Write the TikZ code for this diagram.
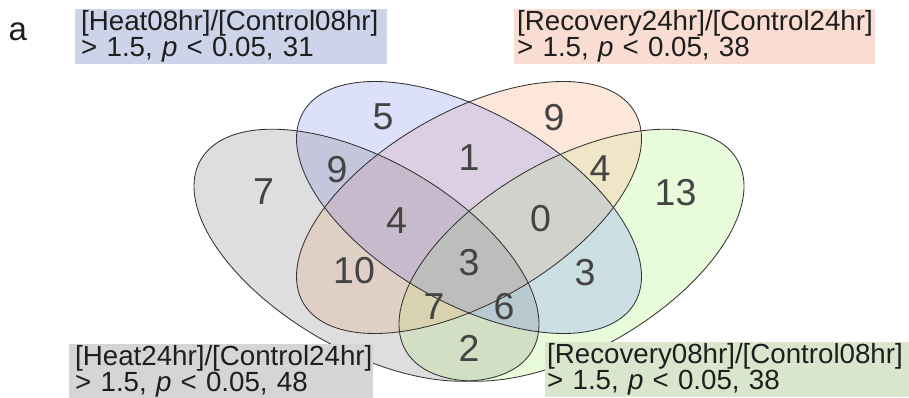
\documentclass[tikz,border=0pt]{standalone}
\usepackage{fontspec}
\setmainfont{Liberation Sans}
\hyphenpenalty=10000
\exhyphenpenalty=10000
\hbadness=10000
\hfuzz=20pt
\lineskiplimit=-100pt
\definecolor{cA}{HTML}{DEDEDE}
\definecolor{cB}{HTML}{DCE0FA}
\definecolor{cC}{HTML}{FDE6DA}
\definecolor{cD}{HTML}{E8FCDC}
\definecolor{cAB}{HTML}{C4C7DC}
\definecolor{cAC}{HTML}{E0CFC4}
\definecolor{cAD}{HTML}{D2DFC4}
\definecolor{cBC}{HTML}{DCCFE3}
\definecolor{cBD}{HTML}{CCE0E3}
\definecolor{cCD}{HTML}{EEE6C6}
\definecolor{cABC}{HTML}{C7BACC}
\definecolor{cBCD}{HTML}{D1D2CC}
\definecolor{cACD}{HTML}{D8D2B0}
\definecolor{cABD}{HTML}{B8CACF}
\definecolor{cABCD}{HTML}{BDBDBB}
\definecolor{boxB}{HTML}{CDD3E9}
\definecolor{boxC}{HTML}{F9DDD3}
\definecolor{boxA}{HTML}{D5D5D5}
\definecolor{boxD}{HTML}{D9E6CD}
\definecolor{numc}{HTML}{444444}
\definecolor{labc}{HTML}{1E1E1E}
\definecolor{linec}{HTML}{333333}
\def\EA{plot[domain=0:360,samples=181,variable=\t] ({366.5+172.5*cos(\t)},{255.2+68.9*cos(\t)+105.5*sin(\t)}) -- cycle}
\def\EB{plot[domain=0:360,samples=181,variable=\t] ({469+172.5*cos(\t)},{207.5+68.9*cos(\t)+105.5*sin(\t)}) -- cycle}
\def\EC{plot[domain=0:360,samples=181,variable=\t] ({469-172.5*cos(\t)},{207.5+68.9*cos(\t)+105.5*sin(\t)}) -- cycle}
\def\ED{plot[domain=0:360,samples=181,variable=\t] ({571.5-172.5*cos(\t)},{255.2+68.9*cos(\t)+105.5*sin(\t)}) -- cycle}
\tikzset{
  vennline/.style={draw=linec, line width=0.85pt},
  num/.style={font=\fontsize{37.5}{40}\selectfont, text=numc, inner sep=0pt},
  lab/.style={font=\fontsize{27.7}{22.7}\selectfont, text=labc, align=left, anchor=north west, inner ysep=0pt},
}
\begin{document}
\begin{tikzpicture}[x=1pt,y=-1pt]
\useasboundingbox (0,0) rectangle (909,398);
% single sets
\fill[cA] \EA;
\fill[cB] \EB;
\fill[cC] \EC;
\fill[cD] \ED;
% pairs
\begin{scope}\clip \EA; \fill[cAB] \EB; \end{scope}
\begin{scope}\clip \EA; \fill[cAC] \EC; \end{scope}
\begin{scope}\clip \EA; \fill[cAD] \ED; \end{scope}
\begin{scope}\clip \EB; \fill[cBC] \EC; \end{scope}
\begin{scope}\clip \EB; \fill[cBD] \ED; \end{scope}
\begin{scope}\clip \EC; \fill[cCD] \ED; \end{scope}
% triples
\begin{scope}\clip \EA; \clip \EB; \fill[cABC] \EC; \end{scope}
\begin{scope}\clip \EB; \clip \EC; \fill[cBCD] \ED; \end{scope}
\begin{scope}\clip \EA; \clip \EC; \fill[cACD] \ED; \end{scope}
\begin{scope}\clip \EA; \clip \EB; \fill[cABD] \ED; \end{scope}
% all four
\begin{scope}\clip \EA; \clip \EB; \clip \EC; \fill[cABCD] \ED; \end{scope}
% outlines
\draw[vennline] \EA;
\draw[vennline] \EB;
\draw[vennline] \EC;
\draw[vennline] \ED;
% counts
\node[num] (nB) at (383,117) {5};
\node[num] (nC) at (554,118) {9};
\node[num] (nBC) at (469,157.5) {1};
\node[num] (nAB) at (337,170) {9};
\node[num] (nA) at (263.5,192) {7};
\node[num] (nCD) at (600,169) {4};
\node[num] (nD) at (675.5,193) {13};
\node[num] (nABC) at (396.5,220.5) {4};
\node[num] (nBCD) at (540.5,218.5) {0};
\node[num] (nAC) at (354,271) {10};
\node[num] (nABCD) at (469,263) {3};
\node[num] (nBD) at (585,272.5) {3};
\node[num] (nACD) at (434,306.7) {7};
\node[num] (nABD) at (504,306.7) {6};
\node[num] (nAD) at (469,348) {2};
% set labels
\node[lab, fill=boxB, text width=300pt, inner xsep=6pt, minimum height=54.5pt] (lH08) at (75,9)
  {\mbox{[Heat08hr]/[Control08hr]}\\{}> 1.5, \textit{p} < 0.05, 31};
\node[lab, fill=boxC, text width=355pt, inner xsep=3pt, minimum height=54.5pt] (lR24) at (514,9)
  {\mbox{[Recovery24hr]/[Control24hr]}\\{}> 1.5, \textit{p} < 0.05, 38};
\node[lab, fill=boxA, text width=292pt, inner xsep=6pt, minimum height=53.5pt] (lH24) at (69,344)
  {\mbox{[Heat24hr]/[Control24hr]}\\{}> 1.5, \textit{p} < 0.05, 48};
\node[lab, fill=boxD, text width=360pt, inner xsep=2pt, minimum height=55pt] (lR08) at (545,342)
  {\mbox{[Recovery08hr]/[Control08hr]}\\{}> 1.5, \textit{p} < 0.05, 38};
\node[font=\fontsize{33}{36}\selectfont, text=labc, anchor=base west, inner sep=0pt] (panel) at (8.5,40.7) {a};
\end{tikzpicture}
\end{document}
